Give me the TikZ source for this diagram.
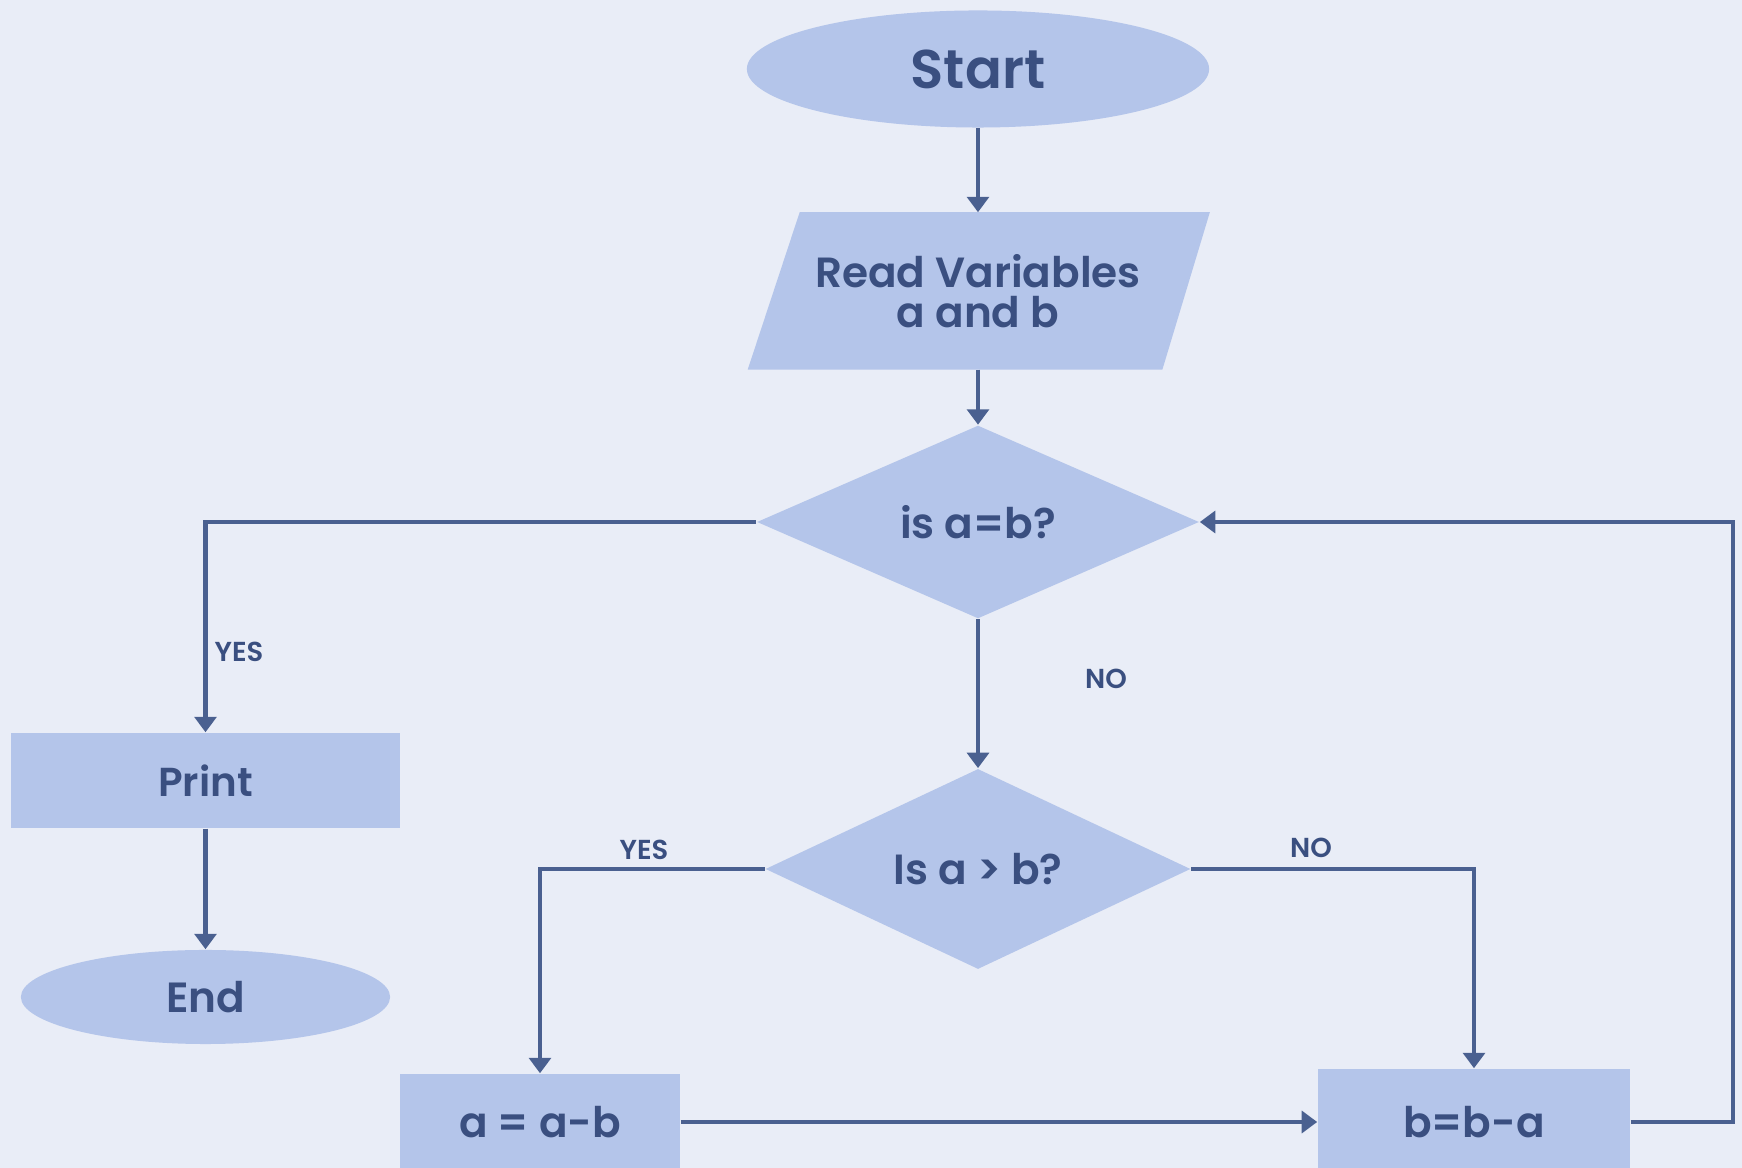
\documentclass[tikz,border=0pt]{standalone}
\usepackage{fontspec}
\setmainfont{Poppins}[BoldFont={Poppins SemiBold}]
\usetikzlibrary{shapes.geometric,arrows.meta,calc}
\definecolor{bgc}{HTML}{E9EDF7}
\definecolor{fillc}{HTML}{B4C5EA}
\definecolor{txtc}{HTML}{3A4F80}
\definecolor{linec}{HTML}{4A6090}
\tikzset{
  shp/.style={fill=fillc, draw=none, text=txtc, inner sep=0pt, font=\bfseries\fontsize{12}{14}\selectfont, align=center},
  oval/.style={shp, ellipse},
  dia/.style={shp, diamond},
  boxx/.style={shp, rectangle},
  conn/.style={draw=linec, line width=1.4pt, -{Triangle[width=6.2pt,length=4.4pt]}},
  lbl/.style={text=txtc, font=\bfseries\fontsize{7.8}{9}\selectfont, inner sep=1pt}
}
\begin{document}
\begin{tikzpicture}[x=0.01cm,y=-0.01cm]
\useasboundingbox[fill=bgc] (0,0) rectangle (1742,1168);
% nodes
\node[oval, minimum width=4.62cm, minimum height=1.17cm, font=\bfseries\fontsize{15.5}{18}\selectfont] (start) at (978,69) {Start};
\node[boxx, fill=none, minimum width=4.59cm, minimum height=1.56cm] (read) at (978,291) {};
\fill[fillc] ($(read.north west)+(52,0)$) -- ($(read.north east)+(1.5,0)$) -- ($(read.south east)+(-46,0)$) -- (read.south west) -- cycle;
\node[text=txtc, align=center, font=\bfseries\fontsize{12}{11.4}\selectfont] (readtxt) at (read.center) {Read Variables\\a and b};
\node[dia, minimum width=4.42cm, minimum height=1.93cm] (d1) at (978,522) {is a=b?};
\node[dia, minimum width=4.25cm, minimum height=1.90cm] (d2) at (978,869) {Is a > b?};
\node[boxx, minimum width=3.89cm, minimum height=0.95cm, font=\bfseries\fontsize{11.5}{14}\selectfont] (print) at (205.5,780.5) {Print};
\node[oval, minimum width=3.69cm, minimum height=0.94cm] (end) at (205.5,997) {End};
\node[boxx, minimum width=2.80cm, minimum height=0.96cm] (amb) at (540,1122) {a = a-b};
\node[boxx, minimum width=3.12cm, minimum height=1.06cm] (bma) at (1474,1122) {b=b-a};
\coordinate (loop) at (1733,522);
% connectors
\draw[conn] (start.south) -- (read.north);
\draw[conn] (read.south) -- (d1.north);
\draw[conn] (d1.west) -| (print.north);
\draw[conn] (d1.south) -- (d2.north);
\draw[conn] (d2.west) -| (amb.north);
\draw[conn] (d2.east) -| (bma.north);
\draw[conn] (print.south) -- (end.north);
\draw[conn] (amb.east) -- (bma.west);
\draw[conn] (bma.east) -| (loop) -- (d1.east);
% labels
\node[lbl] (yes1) at (239,652) {YES};
\node[lbl] (no1) at (1106,679) {NO};
\node[lbl] (yes2) at (644,850) {YES};
\node[lbl] (no2) at (1311,848) {NO};
\end{tikzpicture}
\end{document}
